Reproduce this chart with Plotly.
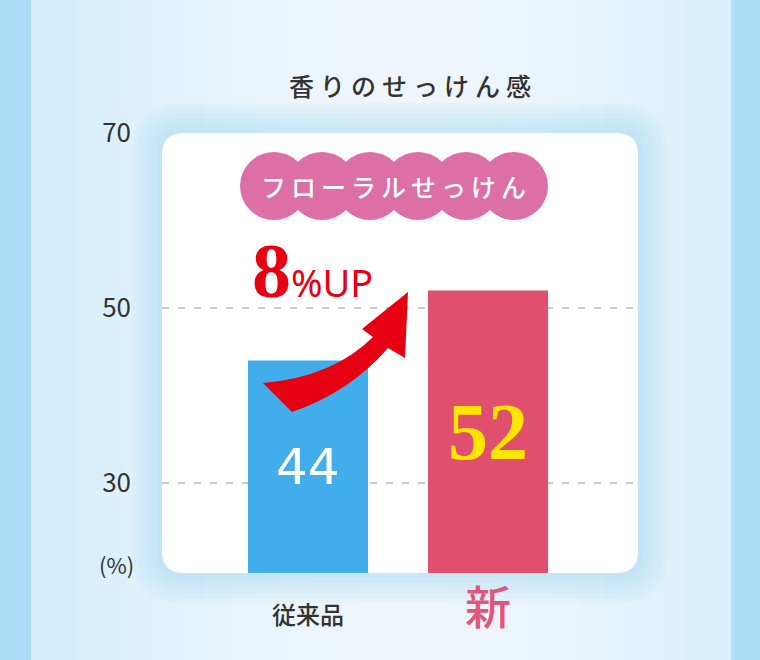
import plotly.graph_objects as go

# chart values
categories = ["従来品", "新"]
scores = [44, 52]
bar_colors = ["#41aeeb", "#e0506e"]
value_colors = ["#ffffff", "#ffe600"]
y_ticks = [30, 50, 70]
grid_ticks = [30, 50]
y_low, y_high = 19.71, 70

W, H = 760, 660
FONT = "Noto Sans CJK JP"


def px(x, y):
    """pixel position -> paper fraction"""
    return x / W, 1 - y / H


def pp(x, y):
    a, b = px(x, y)
    return f"{a:.5f},{b:.5f}"


def rrect_path(x0, y0, x1, y1, r):
    return (f"M{pp(x0 + r, y0)} L{pp(x1 - r, y0)} Q{pp(x1, y0)} {pp(x1, y0 + r)} "
            f"L{pp(x1, y1 - r)} Q{pp(x1, y1)} {pp(x1 - r, y1)} "
            f"L{pp(x0 + r, y1)} Q{pp(x0, y1)} {pp(x0, y1 - r)} "
            f"L{pp(x0, y0 + r)} Q{pp(x0, y0)} {pp(x0 + r, y0)} Z")


def label(x, y, text, **font):
    a, b = px(x, y)
    return dict(x=a, y=b, xref="paper", yref="paper", xanchor="center", yanchor="middle",
                showarrow=False, text=text, font=font)


shapes = []
# background band with a soft white centre
shapes.append(dict(type="rect", xref="paper", yref="paper", x0=31 / W, x1=731 / W,
                   y0=0, y1=1, fillcolor="#d6eefb", line_width=0, layer="below"))
for i in range(12):
    hw = 330 - i * 26
    shapes.append(dict(type="rect", xref="paper", yref="paper",
                       x0=(405 - hw) / W, x1=(405 + hw) / W, y0=0, y1=1,
                       fillcolor="#ffffff", opacity=0.09, line_width=0, layer="below"))

# glow round the panel
for off in [30, 25, 20, 15, 10, 5]:
    shapes.append(dict(type="path", xref="paper", yref="paper",
                       path=rrect_path(162 - off, 133 - off, 638 + off, 573 + off, 22 + off),
                       fillcolor="#a6dbf8", opacity=0.1, line_width=0, layer="below"))
# white panel
shapes.append(dict(type="path", xref="paper", yref="paper",
                   path=rrect_path(162, 133, 638, 573, 22),
                   fillcolor="#ffffff", line_width=0, layer="below"))

# dashed grid lines
for t in grid_ticks:
    shapes.append(dict(type="line", xref="paper", yref="y", x0=162 / W, x1=636 / W,
                       y0=t, y1=t, line=dict(color="#c9c9c9", width=2, dash="7px,9px"),
                       layer="below"))

# pink scalloped badge
for i in range(6):
    cx = 274 + i * 48
    a0, b0 = px(cx - 34, 220)
    a1, b1 = px(cx + 34, 152)
    shapes.append(dict(type="circle", xref="paper", yref="paper", x0=a0, x1=a1,
                       y0=b0, y1=b1, fillcolor="#db6fa6", line_width=0, layer="above"))

# curved red arrow
arrow = (f"M{pp(263, 383)} Q{pp(333, 377)} {pp(373, 337)} L{pp(362, 329)} "
         f"L{pp(408, 292)} L{pp(405, 358)} L{pp(388, 348)} "
         f"Q{pp(350, 392)} {pp(292, 412)} Z")
shapes.append(dict(type="path", xref="paper", yref="paper", path=arrow,
                   fillcolor="#e60012", line_width=0, layer="above"))

fig = go.Figure()
fig.add_trace(go.Bar(
    x=list(range(len(categories))),
    y=scores,
    width=0.667,
    marker=dict(color=bar_colors, line_width=0),
    hoverinfo="skip",
))

annotations = []
for i, v in enumerate(scores):
    big = i == 1
    annotations.append(dict(
        x=i, y=(y_low + v) / 2, xref="x", yref="y", showarrow=False,
        text=f"<b>{v}</b>" if big else str(v),
        font=dict(family="Liberation Serif" if big else "DejaVu Sans",
                  size=80 if big else 50, color=value_colors[i]),
    ))

annotations.append(label(413, 85, "<span style='letter-spacing:6px'>香りのせっけん感</span>",
                         family=FONT, size=25, color="#333333", weight=500))
annotations.append(label(116, 564, "(%)", family=FONT, size=22, color="#333333"))
annotations.append(label(396, 186, "<span style='letter-spacing:5px'>フローラルせっけん</span>",
                         family=FONT, size=25, color="#ffffff", weight=500))
up = label(250, 270, ("<span style='font-family:Liberation Serif;font-weight:bold;"
                      "font-size:78px'>8</span>%UP"),
           family="Noto Sans", size=38, color="#e60012")
up["xanchor"] = "left"
annotations.append(up)

fig.update_layout(
    width=W, height=H,
    margin=dict(l=0, r=0, t=0, b=0, pad=0, autoexpand=False),
    paper_bgcolor="#abdcf5",
    plot_bgcolor="rgba(0,0,0,0)",
    showlegend=False,
    shapes=shapes,
    annotations=annotations,
    xaxis=dict(
        domain=[162 / W, 638 / W], range=[-0.811, 1.833],
        tickvals=list(range(len(categories))),
        ticktext=[categories[0],
                  f"<span style='font-size:46px;font-weight:500;color:#e0557a'>"
                  f"{categories[1]}</span>"],
        tickfont=dict(family=FONT, size=24, color="#333333", weight=500),
        ticklabelstandoff=26, automargin=False,
        showgrid=False, zeroline=False, showline=False, ticks="",
    ),
    yaxis=dict(
        domain=[87 / H, 527 / H], range=[y_low, y_high],
        tickvals=y_ticks,
        tickfont=dict(family=FONT, size=26, color="#333333"),
        ticklabelstandoff=30, automargin=False,
        showgrid=False, zeroline=False, showline=False, ticks="",
    ),
)

# the page is exactly the figure size, so drop the default body margin
fig.write_html(
    "out.html",
    config={"displayModeBar": False},
    post_script="document.body.style.margin = '0';",
)
